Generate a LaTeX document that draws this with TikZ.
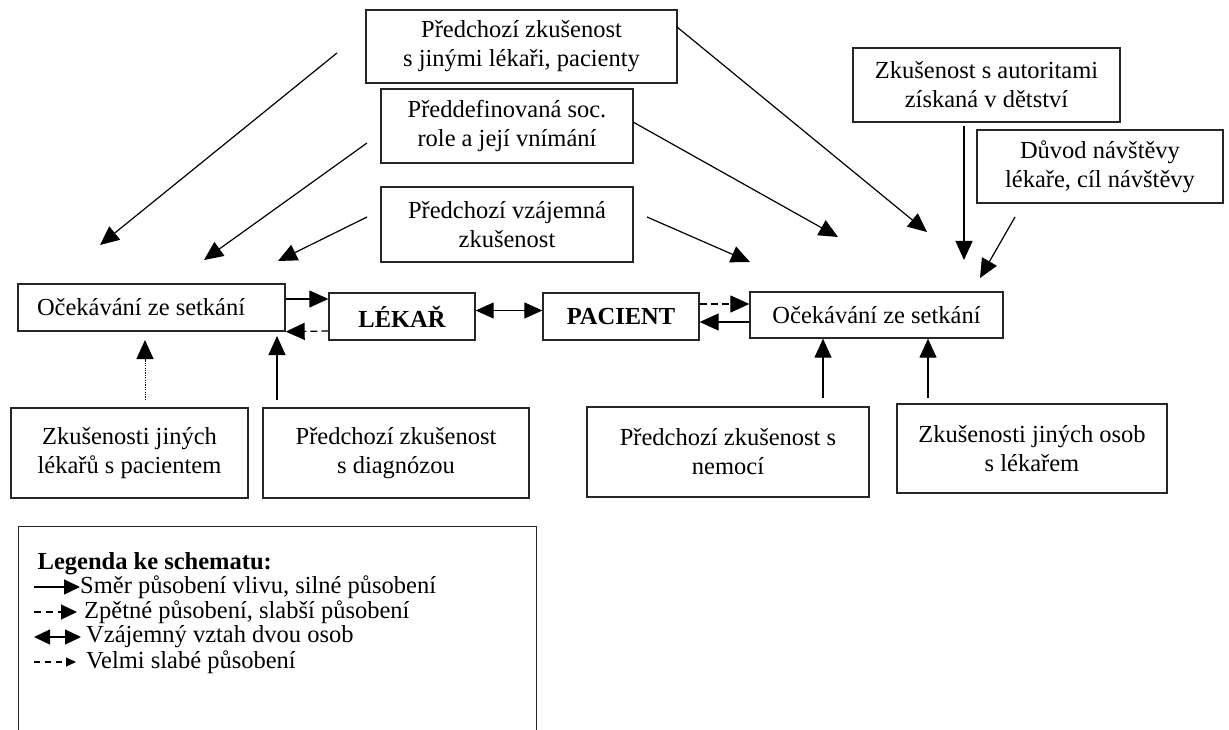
\documentclass[tikz,border=0pt]{standalone}
\usepackage{fontspec}
\setmainfont{Liberation Serif}
\usetikzlibrary{arrows.meta}
\begin{document}
\begin{tikzpicture}[x=1pt,y=-1pt,
  txt/.style={font=\fontsize{24.5}{29}\selectfont},
  box/.style={txt, draw=black!85, line width=1.3pt, rectangle, inner sep=0pt, align=center},
  bbox/.style={box, font=\fontsize{24.5}{29}\selectfont\bfseries},
  arr/.style={line width=1.2pt, -{Triangle[length=19pt,width=17pt]}},
  darr/.style={arr, dash pattern=on 7pt off 4pt},
  dotarr/.style={arr, line width=1pt, dash pattern=on 1.2pt off 1.2pt},
  both/.style={line width=1.2pt, {Triangle[length=18pt,width=16pt]}-{Triangle[length=18pt,width=16pt]}},
  legtxt/.style={txt, anchor=west, inner sep=0pt}
]
\useasboundingbox[fill=white] (0,0) rectangle (1229,730);

% --- influencing factors, top row ---
\node[box, minimum width=311pt, minimum height=73pt] (A) at (521.5,46.5) {Předchozí zkušenost\\s jinými lékaři, pacienty};
\node[box, minimum width=252pt, minimum height=74pt] (B) at (507,126) {Předdefinovaná soc.\\role a její vnímání};
\node[box, minimum width=252pt, minimum height=75pt] (C) at (507,224.5) {Předchozí vzájemná\\zkušenost};
\node[box, minimum width=267pt, minimum height=74pt] (D) at (986.5,85) {Zkušenost s autoritami\\získaná v dětství};
\node[box, minimum width=246pt, minimum height=73pt] (E) at (1100,166.5) {Důvod návštěvy\\lékaře, cíl návštěvy};

% --- the central row ---
\node[box, text width=229pt, align=flush left, inner xsep=19pt, inner ysep=0pt, minimum height=47pt] (L) at (151.5,307.5) {Očekávání ze setkání};
\node[bbox, minimum width=146pt, minimum height=47pt] (LK) at (402,316.5) {LÉKAŘ};
\node[bbox, minimum width=156pt, minimum height=47pt] (P) at (621,316.5) {PACIENT};
\node[box, minimum width=253pt, minimum height=46pt] (R) at (876.5,315) {Očekávání ze setkání};

% --- influencing factors, bottom row ---
\node[box, minimum width=237pt, minimum height=90pt] (F) at (129.5,453) {Zkušenosti jiných\\lékařů s pacientem};
\node[box, minimum width=266pt, minimum height=90pt] (G) at (396,453) {Předchozí zkušenost\\s diagnózou};
\node[box, minimum width=282pt, minimum height=90pt] (H) at (728,452) {Předchozí zkušenost s\\nemocí};
\node[box, minimum width=270pt, minimum height=89pt] (I) at (1032,448.5) {Zkušenosti jiných osob\\s lékařem};

% --- free ends of the influence arrows ---
\coordinate (a1s) at (337,53);   \coordinate (a1e) at (100,245);
\coordinate (a2s) at (367,143);  \coordinate (a2e) at (204,260);
\coordinate (a3s) at (367,217);  \coordinate (a3e) at (278,261);
\coordinate (a4s) at (677,27);   \coordinate (a4e) at (927,232);
\coordinate (a5s) at (633,122);  \coordinate (a5e) at (838,237);
\coordinate (a6s) at (647,217);  \coordinate (a6e) at (750,262);
\coordinate (a7s) at (964,126);  \coordinate (a7e) at (964,260);
\coordinate (a8s) at (1015,217); \coordinate (a8e) at (980,278);
\coordinate (fF) at (145,400);   \coordinate (fFe) at (145,340);
\coordinate (fG) at (277,400);   \coordinate (fGe) at (277,336);
\coordinate (fH) at (823,398);
\coordinate (fI) at (928,398);

% diagonal influences
\draw[arr] (a1s) -- (a1e);
\draw[arr] (a2s) -- (a2e);
\draw[arr] (a3s) -- (a3e);
\draw[arr] (a4s) -- (a4e);
\draw[arr] (a5s) -- (a5e);
\draw[arr] (a6s) -- (a6e);
\draw[arr] (a7s) -- (a7e);
\draw[arr] (a8s) -- (a8e);

% bottom influences
\draw[dotarr] (fF) -- (fFe);
\draw[arr] (fG) -- (fGe);
\draw[arr] (fH) -- (fH |- R.south);
\draw[arr] (fI) -- (fI |- R.south);

% relations between the persons and their expectations
\draw[arr] ([yshift=8.5pt]L.east) -- ([yshift=17.5pt]LK.west);
\draw[darr] ([yshift=-14.5pt]LK.west) -- (L.south east);
\draw[both] ([yshift=6pt]LK.east) -- ([yshift=6pt]P.west);
\draw[darr] ([yshift=12.5pt]P.east) -- ([yshift=11pt]R.west);
\draw[arr] ([yshift=-7pt]R.west) -- ([yshift=-5.5pt]P.east);

% --- legend ---
\node[draw=black!85, line width=1.3pt, rectangle, inner sep=0pt, anchor=north west,
      minimum width=518pt, minimum height=260pt] (LG) at (18,526) {};
\node[legtxt, font=\fontsize{24.5}{29}\selectfont\bfseries] (LT) at (37.5,564) {Legenda ke schematu:};

\coordinate (l1s) at (34,587); \coordinate (l1e) at (80,587);
\coordinate (l2s) at (34,612); \coordinate (l2e) at (77,612);
\coordinate (l3s) at (34,637); \coordinate (l3e) at (81,637);
\coordinate (l4s) at (34,662); \coordinate (l4e) at (76,662);

\draw[line width=1.2pt, -{Triangle[length=16pt,width=15pt]}] (l1s) -- (l1e);
\draw[line width=1.2pt, dash pattern=on 7pt off 5pt, -{Triangle[length=16pt,width=15pt]}] (l2s) -- (l2e);
\draw[line width=1.2pt, {Triangle[length=16pt,width=15pt]}-{Triangle[length=16pt,width=15pt]}] (l3s) -- (l3e);
\draw[line width=1.2pt, dash pattern=on 6pt off 5pt, -{Triangle[length=10pt,width=9pt]}] (l4s) -- (l4e);

\node[legtxt] (T1) at (80,587) {Směr působení vlivu, silné působení};
\node[legtxt] (T2) at (84,612) {Zpětné působení, slabší působení};
\node[legtxt] (T3) at (86,637) {Vzájemný vztah dvou osob};
\node[legtxt] (T4) at (86,662) {Velmi slabé působení};
\end{tikzpicture}
\end{document}
